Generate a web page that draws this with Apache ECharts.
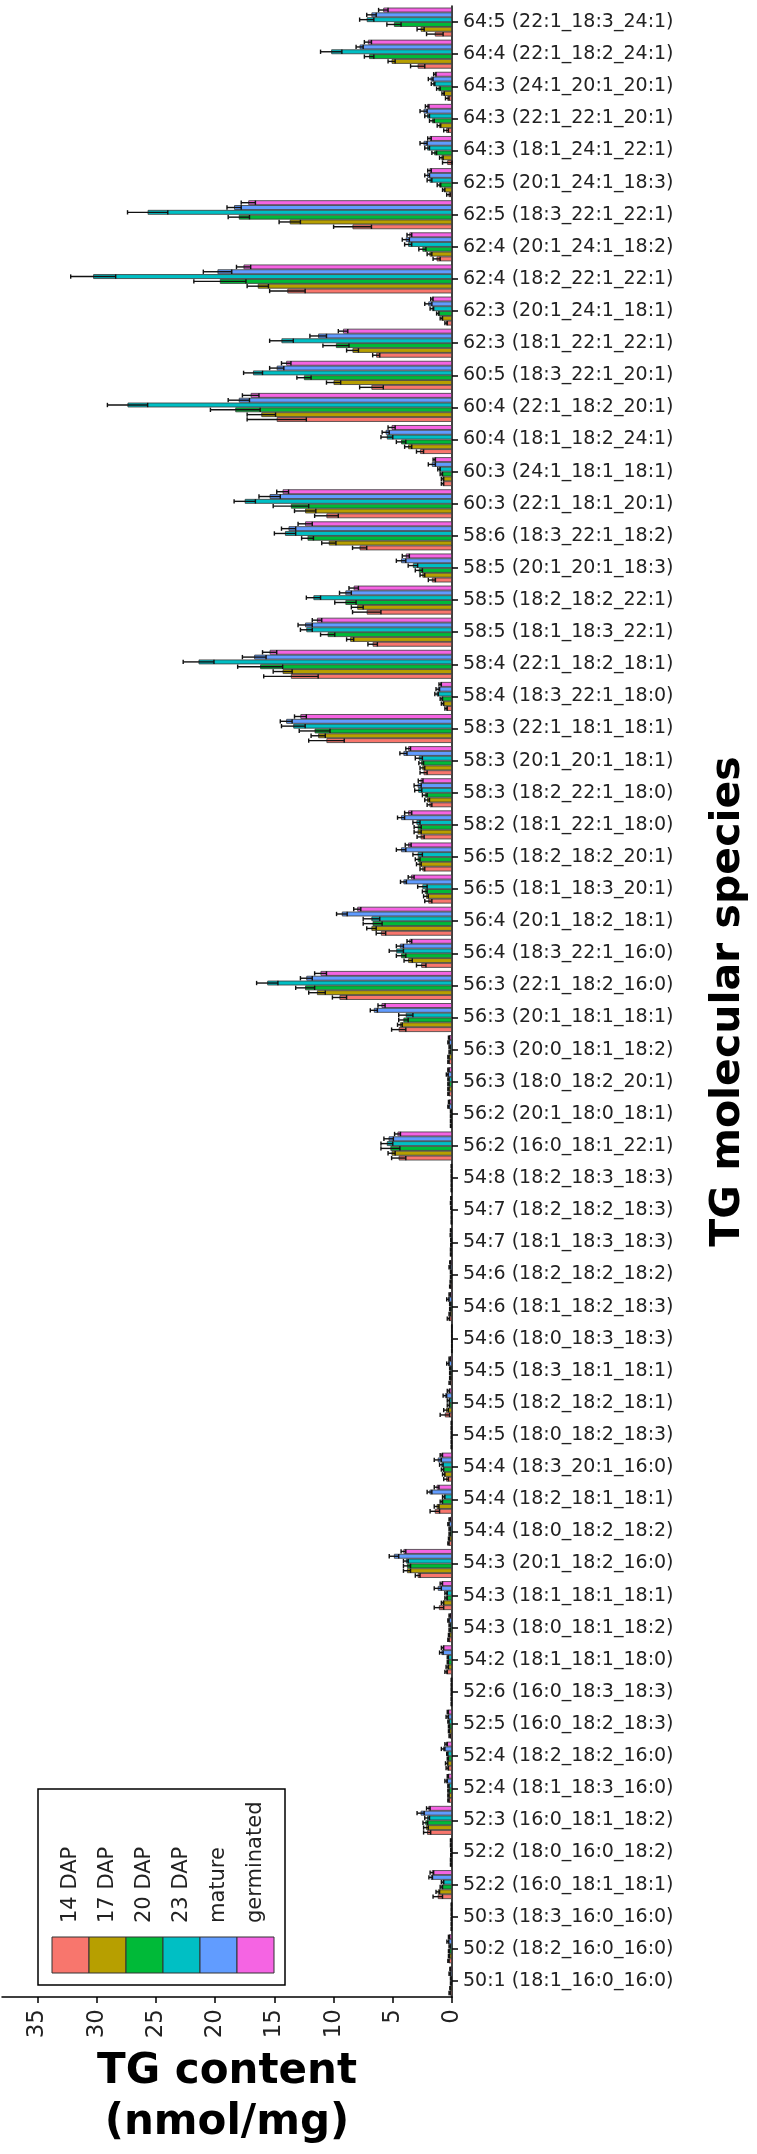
<!DOCTYPE html>
<html><head><meta charset="utf-8">
<script src="https://cdn.jsdelivr.net/npm/echarts@6/dist/echarts.min.js"></script>
<style>html,body{margin:0;padding:0;background:#fff}#c{width:757px;height:2154px}</style>
</head><body><div id="c"></div>
<script>
// categories, top to bottom as drawn
const categories = [
'64:5 (22:1_18:3_24:1)','64:4 (22:1_18:2_24:1)','64:3 (24:1_20:1_20:1)','64:3 (22:1_22:1_20:1)','64:3 (18:1_24:1_22:1)',
'62:5 (20:1_24:1_18:3)','62:5 (18:3_22:1_22:1)','62:4 (20:1_24:1_18:2)','62:4 (18:2_22:1_22:1)','62:3 (20:1_24:1_18:1)',
'62:3 (18:1_22:1_22:1)','60:5 (18:3_22:1_20:1)','60:4 (22:1_18:2_20:1)','60:4 (18:1_18:2_24:1)','60:3 (24:1_18:1_18:1)',
'60:3 (22:1_18:1_20:1)','58:6 (18:3_22:1_18:2)','58:5 (20:1_20:1_18:3)','58:5 (18:2_18:2_22:1)','58:5 (18:1_18:3_22:1)',
'58:4 (22:1_18:2_18:1)','58:4 (18:3_22:1_18:0)','58:3 (22:1_18:1_18:1)','58:3 (20:1_20:1_18:1)','58:3 (18:2_22:1_18:0)',
'58:2 (18:1_22:1_18:0)','56:5 (18:2_18:2_20:1)','56:5 (18:1_18:3_20:1)','56:4 (20:1_18:2_18:1)','56:4 (18:3_22:1_16:0)',
'56:3 (22:1_18:2_16:0)','56:3 (20:1_18:1_18:1)','56:3 (20:0_18:1_18:2)','56:3 (18:0_18:2_20:1)','56:2 (20:1_18:0_18:1)',
'56:2 (16:0_18:1_22:1)','54:8 (18:2_18:3_18:3)','54:7 (18:2_18:2_18:3)','54:7 (18:1_18:3_18:3)','54:6 (18:2_18:2_18:2)',
'54:6 (18:1_18:2_18:3)','54:6 (18:0_18:3_18:3)','54:5 (18:3_18:1_18:1)','54:5 (18:2_18:2_18:1)','54:5 (18:0_18:2_18:3)',
'54:4 (18:3_20:1_16:0)','54:4 (18:2_18:1_18:1)','54:4 (18:0_18:2_18:2)','54:3 (20:1_18:2_16:0)','54:3 (18:1_18:1_18:1)',
'54:3 (18:0_18:1_18:2)','54:2 (18:1_18:1_18:0)','52:6 (16:0_18:3_18:3)','52:5 (16:0_18:2_18:3)','52:4 (18:2_18:2_16:0)',
'52:4 (18:1_18:3_16:0)','52:3 (16:0_18:1_18:2)','52:2 (18:0_16:0_18:2)','52:2 (16:0_18:1_18:1)','50:3 (18:3_16:0_16:0)',
'50:2 (18:2_16:0_16:0)','50:1 (18:1_16:0_16:0)'];

const seriesNames = ['14 DAP','17 DAP','20 DAP','23 DAP','mature','germinated'];
const seriesColors = ['#F8766D','#B79F00','#00BA38','#00BFC4','#619CFF','#F564E3'];

const dap14 = [1.45,2.9,0.4,0.5,0.4,0.3,8.4,1.3,13.9,0.5, 6.4,6.8,14.8,2.7,0.8,10.6,7.8,1.7,7.2,6.7,
 13.6,0.5,10.6,2.4,1.9,2.65,2.5,2.0,6.0,2.6, 9.5,4.5,0.3,0.3,0.1,4.5,0.05,0.05,0.1,0.15,
 0.3,0.02,0.2,0.6,0.05,0.5,1.45,0.3,2.9,1.1, 0.3,0.5,0.05,0.2,0.4,0.3,2.1,0.1,1.2,0.05, 0.3,0.2];
const dap17 = [2.65,5.1,0.75,1.1,0.9,0.7,13.7,1.9,16.4,0.9, 8.4,10.0,16.1,3.7,0.8,12.4,10.4,2.5,8.0,8.6,
 14.3,0.8,11.3,2.5,2.1,2.9,2.8,2.2,6.8,3.7, 11.4,4.4,0.3,0.3,0.1,5.1,0.05,0.05,0.1,0.12,
 0.2,0.02,0.15,0.5,0.05,0.7,1.3,0.25,3.8,0.8, 0.25,0.4,0.05,0.25,0.45,0.3,2.2,0.1,1.2,0.05, 0.25,0.15];
const dap20 = [4.9,7.0,1.15,1.7,1.5,1.1,18.0,2.5,19.6,1.2, 9.8,12.5,18.3,4.3,0.9,13.6,12.2,2.8,9.0,10.5,
 16.2,0.9,11.6,2.6,2.3,2.9,2.9,2.3,6.7,4.3, 12.4,4.1,0.2,0.3,0.1,5.2,0.05,0.05,0.08,0.1,
 0.15,0.02,0.15,0.3,0.05,0.8,0.9,0.2,3.8,0.5, 0.2,0.35,0.05,0.25,0.35,0.3,2.25,0.08,0.9,0.05, 0.25,0.1];
const dap23 = [7.2,10.2,1.6,2.1,2.1,1.9,25.7,3.7,30.3,1.7, 14.4,16.8,27.4,5.5,1.1,17.5,14.1,3.3,11.7,12.3,
 21.4,1.3,13.4,2.8,2.85,3.0,2.9,2.5,6.8,4.7, 15.6,3.9,0.2,0.3,0.1,5.5,0.05,0.08,0.08,0.1,
 0.15,0.02,0.15,0.3,0.05,0.9,0.7,0.2,3.9,0.5, 0.2,0.35,0.05,0.3,0.4,0.3,2.1,0.08,0.8,0.05, 0.2,0.1];
const mature = [6.8,7.8,1.8,2.4,2.4,2.1,18.4,3.9,19.8,2.0, 11.3,14.8,18.0,5.6,1.7,15.4,13.8,4.3,9.0,12.4,
 16.7,1.2,14.0,4.1,2.9,4.3,4.3,4.1,9.3,4.4, 12.3,6.6,0.3,0.4,0.3,5.35,0.05,0.1,0.12,0.2,
 0.35,0.02,0.35,0.6,0.05,1.2,1.9,0.3,4.9,1.2, 0.3,0.9,0.05,0.4,0.75,0.5,2.65,0.1,1.8,0.05, 0.35,0.2];
const germinated = [5.8,7.1,1.45,2.1,1.9,1.9,17.2,3.6,17.6,1.7, 9.2,14.0,17.0,5.1,1.5,14.3,12.4,3.9,8.3,11.4,
 15.4,1.0,12.8,3.7,2.65,3.7,3.7,3.45,8.0,3.6, 11.1,5.95,0.25,0.3,0.25,4.6,0.05,0.08,0.1,0.15,
 0.2,0.02,0.2,0.3,0.05,0.9,1.3,0.2,4.1,0.9, 0.2,0.8,0.05,0.35,0.5,0.35,2.0,0.1,1.7,0.05, 0.25,0.15];

const err14 = [0.7,0.6,0.15,0.2,0.4,0.15,1.6,0.3,1.5,0.1, 0.3,1.0,2.5,0.3,0.1,1.0,0.6,0.3,1.2,0.4,
 2.3,0.1,1.5,0.3,0.2,0.3,0.2,0.3,0.4,0.4, 0.6,0.6,0.05,0.05,0.03,0.6,0.02,0.02,0.03,0.05,
 0.1,0.01,0.05,0.4,0.02,0.2,0.4,0.05,0.2,0.4, 0.05,0.1,0.02,0.05,0.1,0.05,0.3,0.03,0.4,0.02, 0.05,0.05];
const err17 = [0.3,0.3,0.1,0.15,0.15,0.1,0.9,0.2,0.9,0.1, 0.5,0.6,1.2,0.3,0.1,0.9,0.6,0.2,0.5,0.3,
 0.8,0.1,0.6,0.2,0.2,0.3,0.2,0.2,0.4,0.35, 0.7,0.2,0.05,0.05,0.03,0.3,0.02,0.02,0.03,0.04,
 0.05,0.01,0.05,0.2,0.02,0.1,0.2,0.05,0.3,0.1, 0.05,0.1,0.02,0.05,0.1,0.05,0.2,0.03,0.15,0.02, 0.05,0.03];
const err20 = [0.6,0.4,0.15,0.2,0.2,0.15,0.9,0.3,2.2,0.1, 1.1,0.6,2.1,0.4,0.1,1.5,0.5,0.3,0.9,0.6,
 1.9,0.1,1.3,0.2,0.2,0.3,0.2,0.2,0.8,0.4, 0.8,0.4,0.05,0.05,0.03,0.8,0.02,0.02,0.03,0.03,
 0.05,0.01,0.05,0.1,0.02,0.1,0.1,0.05,0.3,0.1, 0.05,0.05,0.02,0.05,0.05,0.05,0.2,0.03,0.1,0.02, 0.05,0.03];
const err23 = [0.6,0.9,0.15,0.2,0.2,0.2,1.7,0.3,1.9,0.15, 1.0,0.8,1.7,0.5,0.1,0.9,0.9,0.4,0.6,0.5,
 1.3,0.15,1.0,0.3,0.3,0.3,0.4,0.4,0.7,0.6, 0.9,0.6,0.05,0.05,0.03,0.5,0.02,0.02,0.03,0.03,
 0.05,0.01,0.05,0.1,0.02,0.15,0.1,0.05,0.2,0.1, 0.05,0.05,0.02,0.05,0.05,0.05,0.2,0.03,0.1,0.02, 0.05,0.03];
const errMature = [0.4,0.3,0.2,0.3,0.3,0.2,0.6,0.3,1.2,0.3, 0.7,0.6,0.9,0.3,0.3,0.9,0.6,0.4,0.5,0.6,
 1.0,0.15,0.5,0.3,0.3,0.3,0.4,0.25,0.45,0.3, 0.5,0.3,0.05,0.08,0.05,0.4,0.02,0.03,0.03,0.05,
 0.1,0.01,0.1,0.15,0.02,0.3,0.2,0.05,0.4,0.3, 0.05,0.15,0.02,0.1,0.15,0.1,0.3,0.03,0.15,0.02, 0.08,0.05];
const errGerminated = [0.4,0.3,0.1,0.15,0.15,0.15,0.6,0.2,0.6,0.1, 0.4,0.4,0.7,0.3,0.1,0.5,0.6,0.3,0.4,0.4,
 0.6,0.1,0.5,0.2,0.2,0.3,0.25,0.25,0.3,0.2, 0.5,0.3,0.05,0.05,0.05,0.25,0.02,0.02,0.03,0.04,
 0.05,0.01,0.05,0.1,0.02,0.1,0.2,0.05,0.2,0.1, 0.05,0.1,0.02,0.05,0.1,0.05,0.15,0.03,0.15,0.02, 0.05,0.03];

const xTicks = [0,5,10,15,20,25,30,35];

const values = [dap14, dap17, dap20, dap23, mature, germinated];
const errors = [err14, err17, err20, err23, errMature, errGerminated];
const FONT = 'DejaVu Sans';
const CAT_GAP = 0.10;
// top-to-bottom order inside a band: germinated ... 14 DAP
const order = [5,4,3,2,1,0];

const series = [];
order.forEach(function(si){
  series.push({
    type:'bar', name: seriesNames[si], data: values[si],
    barGap:'0%', barCategoryGap: (CAT_GAP*100)+'%',
    itemStyle:{color: seriesColors[si], borderColor:'#3a3a3a', borderWidth:0.8},
    emphasis:{disabled:true}, z:2
  });
});
order.forEach(function(si, k){
  series.push({
    type:'custom', name: seriesNames[si]+' err', z:5, silent:true,
    data: values[si].map(function(v,i){ return [v, i, errors[si][i]]; }),
    encode:{x:0, y:1},
    renderItem: function(params, api){
      const v = api.value(0), c = api.value(1), e = api.value(2);
      const p = api.coord([v, c]);
      const band = api.size([0,1])[1];
      const usable = band*(1-CAT_GAP);
      const bw = usable/6;
      const y = p[1] - usable/2 + (k+0.5)*bw;
      const xl = api.coord([Math.max(0, v-e), c])[0];
      const xr = api.coord([v+e, c])[0];
      const h = bw*0.45;
      const st = {stroke:'#111', lineWidth:1.4, fill:null};
      return {type:'group', children:[
        {type:'line', shape:{x1:xl,y1:y,x2:xr,y2:y}, style:st},
        {type:'line', shape:{x1:xl,y1:y-h,x2:xl,y2:y+h}, style:st},
        {type:'line', shape:{x1:xr,y1:y-h,x2:xr,y2:y+h}, style:st}
      ]};
    }
  });
});

// legend drawn as graphic (rotated labels as in the reference)
const LG = {x:38, y:1789, w:247, h:196, sx:52, sy:1937, sw:37, sh:36, ty:1923};
const graphics = [{type:'rect', shape:{x:LG.x, y:LG.y, width:LG.w, height:LG.h},
  style:{fill:'#fff', stroke:'#000', lineWidth:1.5}, z:10}];
seriesNames.forEach(function(n, i){
  graphics.push({type:'rect', shape:{x:LG.sx+i*LG.sw, y:LG.sy, width:LG.sw, height:LG.sh},
    style:{fill:seriesColors[i], stroke:'#333', lineWidth:1}, z:11});
  graphics.push({type:'text', x:LG.sx+i*LG.sw+LG.sw/2, y:LG.ty, rotation:Math.PI/2, z:11,
    style:{text:n, fill:'#222', font:'21px "DejaVu Sans"', align:'left', verticalAlign:'middle'}});
});

const chart = echarts.init(document.getElementById('c'), null, {renderer:'canvas'});
chart.setOption({
  animation:false,
  backgroundColor:'#fff',
  textStyle:{fontFamily:FONT},
  grid:{left:2, right:299, top:6, bottom:149, containLabel:false},
  xAxis:{type:'value', min:0, max:38, interval:5, inverse:true, position:'bottom',
    axisLine:{show:true, lineStyle:{color:'#000', width:1.5}},
    axisTick:{show:true, length:6, lineStyle:{color:'#000', width:1.5}, customValues:xTicks},
    axisLabel:{rotate:90, fontSize:23, color:'#222', margin:12, customValues:xTicks, fontFamily:FONT},
    splitLine:{show:false},
    name:'TG content\n(nmol/mg)', nameLocation:'middle', nameGap:50,
    nameTextStyle:{fontSize:42, fontWeight:'bold', color:'#000', lineHeight:51, fontFamily:FONT}
  },
  yAxis:{type:'category', data:categories, inverse:true, position:'right',
    axisLine:{show:true, lineStyle:{color:'#000', width:1.5}},
    axisTick:{show:true, length:6, alignWithLabel:true, lineStyle:{color:'#000', width:1.5}},
    axisLabel:{fontSize:19, color:'#222', margin:11, interval:0, fontFamily:FONT},
    name:'TG molecular species', nameLocation:'middle', nameRotate:90, nameGap:256,
    nameTextStyle:{fontSize:41, fontWeight:'bold', color:'#000', fontFamily:FONT}
  },
  graphic: graphics,
  series: series
});
</script></body></html>
